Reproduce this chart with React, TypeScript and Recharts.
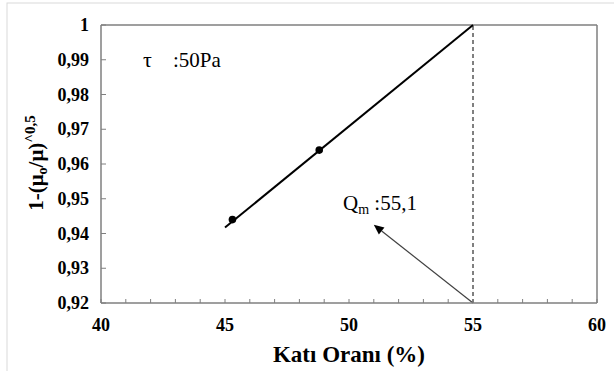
import React from 'react';
import { ComposedChart, Scatter, XAxis, YAxis, ReferenceLine } from 'recharts';

// axis ticks
const xTicks = [40, 41, 42, 43, 44, 45, 46, 47, 48, 49, 50, 51, 52, 53, 54, 55, 56, 57, 58, 59, 60];
const yTicks = [0.92, 0.93, 0.94, 0.95, 0.96, 0.97, 0.98, 0.99, 1];

// measured points
const measured = [
  { x: 45.3, y: 0.944 },
  { x: 48.8, y: 0.964 },
];

// linear fit drawn across the range
const trend = [
  { x: 45, y: 0.9417 },
  { x: 55, y: 1.0 },
];

// Qm marker and arrow
const qm = 55;
const arrowFrom = { x: 55, y: 0.92 };
const arrowTo = { x: 51, y: 0.9425 };

const W = 614;
const H = 371;
const PLOT_LEFT = 101;
const PLOT_BOTTOM = 303;
const AXIS_GREY = '#7f7f7f';
const serif = { fontFamily: "'Times New Roman', Times, Tinos, 'Liberation Serif', 'DejaVu Serif', 'Noto Serif', serif" };

const XTick = (props: any) => {
  const { x, payload } = props;
  const v = payload.value;
  return (
    <g>
      <line x1={x} x2={x} y1={PLOT_BOTTOM} y2={PLOT_BOTTOM - 4} stroke={AXIS_GREY} strokeWidth={1} />
      {v % 5 === 0 && (
        <text x={x} y={331} textAnchor="middle" style={serif} fontWeight="bold" fontSize={18} fill="#000">
          {v}
        </text>
      )}
    </g>
  );
};

const YTick = (props: any) => {
  const { y, payload } = props;
  const v = payload.value;
  const label = v === 1 ? '1' : v.toFixed(2).replace('.', ',');
  return (
    <g>
      <line x1={PLOT_LEFT} x2={PLOT_LEFT + 5} y1={y} y2={y} stroke={AXIS_GREY} strokeWidth={1} />
      <text x={89} y={y + 6} textAnchor="end" style={serif} fontWeight="bold" fontSize={18} fill="#000">
        {label}
      </text>
    </g>
  );
};

const Arrow = (props: any) => {
  const { x1, y1, x2, y2 } = props;
  const a = Math.atan2(y2 - y1, x2 - x1);
  const len = 10;
  const w = 4.5;
  const bx = x2 - len * Math.cos(a);
  const by = y2 - len * Math.sin(a);
  const px = -Math.sin(a) * w;
  const py = Math.cos(a) * w;
  return (
    <g>
      <line x1={x1} y1={y1} x2={bx} y2={by} stroke="#404040" strokeWidth={1.2} />
      <polygon points={`${x2},${y2} ${bx + px},${by + py} ${bx - px},${by - py}`} fill="#000" />
    </g>
  );
};

const Dot = (props: any) => <circle cx={props.cx} cy={props.cy} r={3.8} fill="#000" />;

export default function App() {
  return (
    <div style={{ position: 'absolute', left: 0, top: 0, width: W, height: H, background: '#fff' }}>
      <svg width={W} height={H} style={{ position: 'absolute', left: 0, top: 0 }}>
        <rect x={7} y={3} width={W + 20} height={H + 20} fill="none" stroke="#d9d9d9" strokeWidth={1} />
      </svg>
      <div style={{ position: 'absolute', left: 0, top: 0 }}>
        <ComposedChart width={W} height={H} margin={{ top: 25, right: 17, bottom: 0, left: 41 }}>
          <XAxis
            type="number"
            dataKey="x"
            domain={[40, 60]}
            ticks={xTicks}
            interval={0}
            tick={XTick}
            tickLine={false}
            axisLine={{ stroke: AXIS_GREY, strokeWidth: 1.5 }}
            height={68}
          />
          <YAxis
            type="number"
            dataKey="y"
            domain={[0.92, 1]}
            ticks={yTicks}
            interval={0}
            tick={YTick}
            tickLine={false}
            axisLine={{ stroke: AXIS_GREY, strokeWidth: 1.5 }}
            width={60}
          />
          <ReferenceLine y={1} stroke={AXIS_GREY} strokeWidth={1.5} />
          <ReferenceLine x={60} stroke={AXIS_GREY} strokeWidth={1.5} />
          <ReferenceLine x={qm} stroke="#000" strokeWidth={1} strokeDasharray="4 3" />
          <ReferenceLine segment={[arrowFrom, arrowTo]} shape={Arrow} />
          <Scatter
            data={trend}
            line={{ stroke: '#000', strokeWidth: 2 }}
            shape={() => <g />}
            isAnimationActive={false}
          />
          <Scatter data={measured} shape={Dot} isAnimationActive={false} />
          <text x={143} y={67} style={serif} fontSize={22} fill="#000">τ</text>
          <text x={173} y={67} style={serif} fontSize={21} fill="#000">:50Pa</text>
          <text x={343} y={210} style={serif} fontSize={21} fill="#000">
            Q<tspan fontSize={14} dy={4}>m</tspan>
            <tspan dy={-4}> :55,1</tspan>
          </text>
          <text x={349} y={362} textAnchor="middle" style={serif} fontWeight="bold" fontSize={23} fill="#000">
            Katı Oranı (%)
          </text>
          <text
            x={43}
            y={163}
            textAnchor="middle"
            transform="rotate(-90 43 163)"
            style={serif}
            fontWeight="bold"
            fontSize={21}
            fill="#000"
          >
            1-(μ<tspan fontSize={14} dy={4}>o</tspan>
            <tspan dy={-4}>/μ)</tspan>
            <tspan fontSize={15} dy={-8}>^0,5</tspan>
          </text>
        </ComposedChart>
      </div>
    </div>
  );
}
